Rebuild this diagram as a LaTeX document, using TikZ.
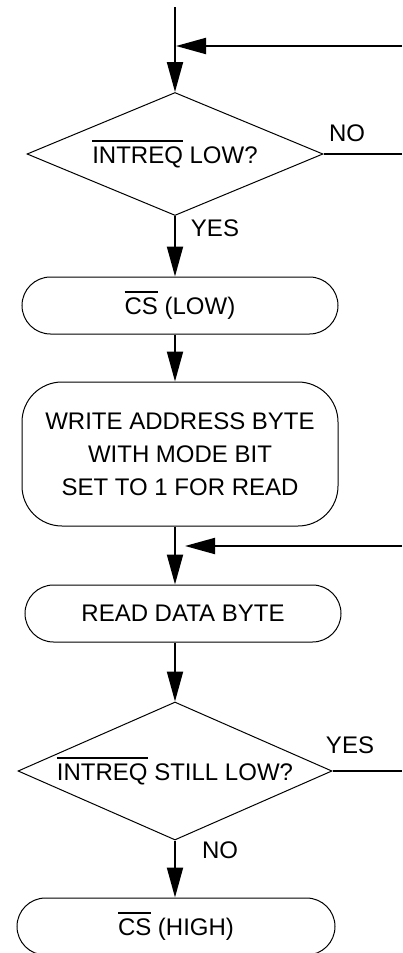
\documentclass[tikz,border=0pt]{standalone}
\usepackage{fontspec}
\setmainfont{Liberation Sans}
\usetikzlibrary{shapes.geometric,arrows.meta}

\newcommand{\ovl}[1]{\leavevmode\vbox{\hrule height 1.3pt\kern 5pt\hbox{#1}}}

\begin{document}
\begin{tikzpicture}[x=1pt,y=-1pt,
  font=\fontsize{24}{33}\selectfont,
  flow/.style={line width=2pt},
  arr/.style={flow,-{Triangle[length=30pt,width=16pt]}},
  decision/.style={diamond,draw,line width=1pt,inner sep=0pt},
  process/.style={rectangle,draw,line width=1pt,rounded corners=28.5pt,
    minimum width=316pt,minimum height=57pt,align=center}]

\useasboundingbox (0,0) rectangle (402,953);

\coordinate (start) at (175,7);
\coordinate (j1) at (176,46);
\coordinate (ret1) at (402,46);
\node[decision,aspect=2.4,minimum width=296pt,minimum height=123pt] (ask1) at (175,154) {\ovl{INTREQ} LOW?};
\coordinate (no1) at (402,154);
\node[process] (cslow) at (180,305.5) {\ovl{CS} (LOW)};
\node[process,minimum height=144pt,rounded corners=40pt] (wr) at (180,454)
  {WRITE ADDRESS BYTE\\WITH MODE BIT\\SET TO 1 FOR READ};
\coordinate (j2) at (185,546);
\coordinate (ret2) at (402,546);
\node[process] (rd) at (183,613.5) {READ DATA BYTE};
\node[decision,aspect=2.28,minimum width=314pt,minimum height=138pt] (ask2) at (175,771) {\ovl{INTREQ} STILL LOW?};
\coordinate (yes2) at (402,771);
\node[process,minimum width=318pt] (cshigh) at (176,926.5) {\ovl{CS} (HIGH)};

% branch labels
\node (no1lbl) at (347,133) {NO};
\node (yes1lbl) at (215,228) {YES};
\node (yes2lbl) at (350,745) {YES};
\node (no2lbl) at (220,850) {NO};

% main line
\draw[arr] (start) -- (ask1.north);
\draw[arr] (ret1) -- (j1);
\draw[flow] (ask1.east) -- (no1);
\draw[arr] (ask1.south) -- (ask1.south |- cslow.north);
\draw[arr] (ask1.south |- cslow.south) -- (ask1.south |- wr.north);
\draw[arr] (ask1.south |- wr.south) -- (ask1.south |- rd.north);
\draw[arr] (ret2) -- (j2);
\draw[arr] (ask1.south |- rd.south) -- (ask2.north);
\draw[flow] (ask2.east) -- (yes2);
\draw[arr] (ask2.south) -- (ask2.south |- cshigh.north);

\end{tikzpicture}
\end{document}
